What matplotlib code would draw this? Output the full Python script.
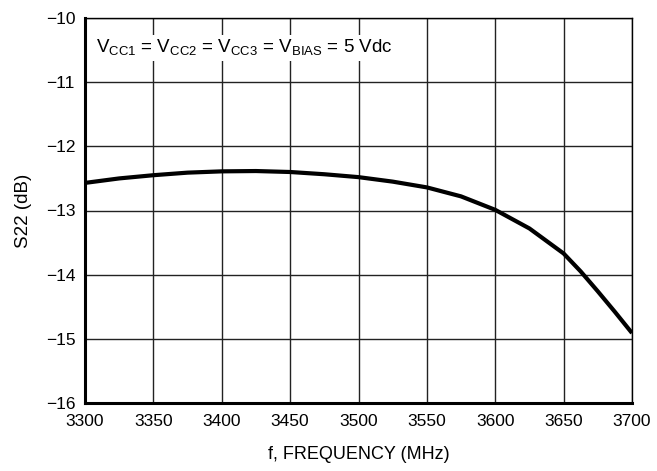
import matplotlib
matplotlib.use('Agg')
from matplotlib import pyplot as plt

plt.rcParams['font.family'] = ['Liberation Sans', 'DejaVu Sans']

# S22 vs frequency
freq_mhz = [3300, 3325, 3350, 3375, 3400, 3425, 3450, 3475, 3500,
            3525, 3550, 3575, 3600, 3625, 3650, 3662.5, 3675, 3687.5, 3700]
s22_db = [-12.57, -12.50, -12.45, -12.41, -12.39, -12.385, -12.40, -12.435, -12.48,
          -12.55, -12.64, -12.78, -12.99, -13.28, -13.67, -13.95, -14.26, -14.58, -14.91]

x_ticks = list(range(3300, 3701, 50))
y_ticks = [-16, -15, -14, -13, -12, -11, -10]


def main():
    fig = plt.figure(figsize=(6.57, 4.71), dpi=100)
    ax = fig.add_axes([85 / 657, 1 - 403 / 471, (632 - 85) / 657, (403 - 18) / 471])

    ax.plot(freq_mhz, s22_db, color='black', linewidth=3.0, zorder=3,
            solid_joinstyle='round', solid_capstyle='butt')

    ax.set_xlim(3300, 3700)
    ax.set_ylim(-16, -10)
    ax.set_xticks(x_ticks)
    ax.set_yticks(y_ticks)
    ax.grid(True, color='#222222', linewidth=1.0)
    ax.tick_params(length=0, labelsize=12.5)
    ax.tick_params(axis='x', pad=8)
    ax.tick_params(axis='y', pad=28)
    for lbl in ax.get_yticklabels():
        lbl.set_horizontalalignment('left')

    for side in ['top', 'right']:
        ax.spines[side].set_linewidth(1.0)
    for side in ['left', 'bottom']:
        ax.spines[side].set_linewidth(2.2)

    ax.set_xlabel('f, FREQUENCY (MHz)', fontsize=13, labelpad=12)
    ax.set_ylabel('S22 (dB)', fontsize=13.5, labelpad=10)

    ax.text(3308, -10.47,
            r'V$_{\mathregular{CC1}}$ = V$_{\mathregular{CC2}}$ = V$_{\mathregular{CC3}}$ = '
            r'V$_{\mathregular{BIAS}}$ = 5 Vdc',
            fontsize=13.5, va='center', ha='left', zorder=4,
            bbox=dict(facecolor='white', edgecolor='none', pad=2))

    fig.savefig('out.png', dpi=100)


if __name__ == '__main__':
    main()
